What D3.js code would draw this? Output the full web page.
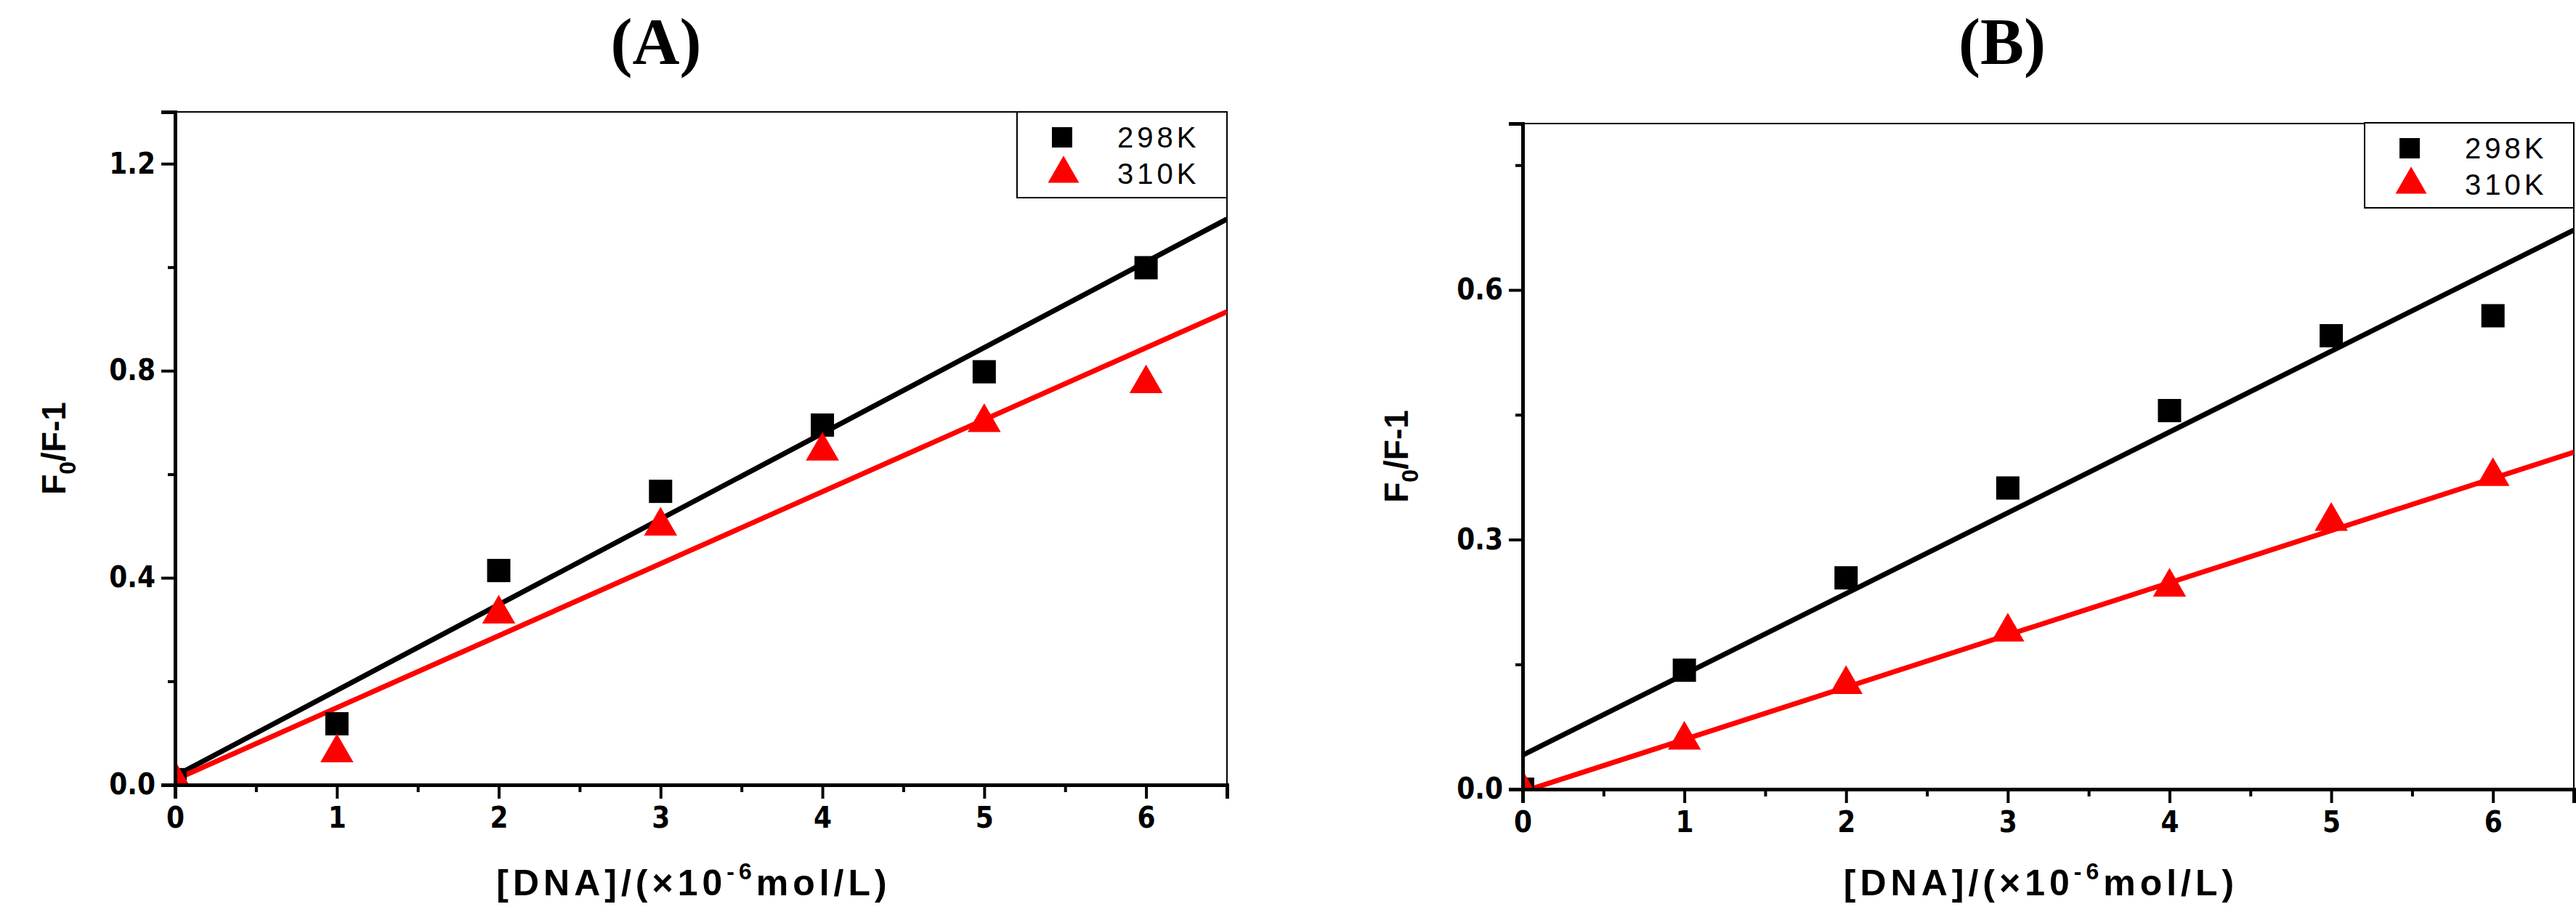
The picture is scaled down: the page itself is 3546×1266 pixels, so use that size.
<!DOCTYPE html>
<html><head><meta charset="utf-8">
<script src="https://cdn.jsdelivr.net/npm/d3@7"></script>
<style>
body{margin:0;background:#fff}
text{fill:#000}
.tick-l{font-family:"DejaVu Sans Condensed","DejaVu Sans";font-stretch:condensed;font-weight:bold;font-size:40px}
</style></head><body>
<div id="chart"></div>
<script>
// data
const conc = [0, 1, 2, 3, 4, 5, 6];
const a298 = [0.01, 0.118, 0.414, 0.567, 0.695, 0.798, 0.999];
const a310 = [0.01, 0.062, 0.33, 0.50, 0.645, 0.70, 0.775];
const aFit298 = [0.017, 1.093]; // line at x=0 and x=6.5
const aFit310 = [0.01, 0.914];
const b298 = [0.0, 0.143, 0.254, 0.362, 0.455, 0.545, 0.569];
const b310 = [0.0, 0.059, 0.126, 0.189, 0.243, 0.322, 0.376];
const bFit298 = [0.041, 0.672];
const bFit310 = [-0.003, 0.405];
const fitX = [0, 6.5];
const seriesNames = ["298K", "310K"];

const W = 3546, H = 1266;
const svg = d3.select("#chart").append("svg").attr("width", W).attr("height", H);

const panels = [
  {title: "(A)", tx: 903, x0: 241, x1: 1689, y0: 1080, y1: 154, ymax: 1.3,
   yMajor: [0, 0.4, 0.8, 1.2], yMinor: [0.2, 0.6, 1.0], s: [a298, a310], fit: [aFit298, aFit310],
   leg: [1400, 154, 289, 118], ytitleX: 74},
  {title: "(B)", tx: 2756, x0: 2096, x1: 3543, y0: 1086, y1: 170, ymax: 0.8,
   yMajor: [0, 0.3, 0.6], yMinor: [0.15, 0.45, 0.75], s: [b298, b310], fit: [bFit298, bFit310],
   leg: [3255, 169, 288, 117], ytitleX: 1922}
];
const colors = ["#000", "#ff0000"];

panels.forEach(p => {
  const x = d3.scaleLinear().domain([0, 6.5]).range([p.x0, p.x1]);
  const y = d3.scaleLinear().domain([0, p.ymax]).range([p.y0, p.y1]);
  const g = svg.append("g");

  g.append("text").attr("x", p.tx).attr("y", 88).attr("text-anchor", "middle")
    .style("font-family", "Liberation Serif").style("font-weight", "bold").style("font-size", "90px").text(p.title);

  // frame: thin top/right, thick left/bottom
  g.append("line").attr("x1", p.x0).attr("x2", p.x1).attr("y1", p.y1).attr("y2", p.y1).attr("stroke", "#000").attr("stroke-width", 2);
  g.append("line").attr("x1", p.x1).attr("x2", p.x1).attr("y1", p.y1).attr("y2", p.y0).attr("stroke", "#000").attr("stroke-width", 2);

  const clipId = "clip" + p.title.replace(/\W/g, "");
  g.append("clipPath").attr("id", clipId).append("rect")
    .attr("x", p.x0).attr("y", p.y1).attr("width", p.x1 - p.x0).attr("height", p.y0 - p.y1);
  const plot = g.append("g").attr("clip-path", `url(#${clipId})`);

  p.fit.forEach((f, i) => {
    plot.append("line").attr("x1", x(fitX[0])).attr("x2", x(fitX[1]))
      .attr("y1", y(f[0])).attr("y2", y(f[1])).attr("stroke", colors[i]).attr("stroke-width", 7);
  });
  plot.selectAll(".sq").data(conc.map((c, i) => [c, p.s[0][i]])).join("rect")
    .attr("x", d => x(d[0]) - 16).attr("y", d => y(d[1]) - 16).attr("width", 32).attr("height", 32).attr("fill", "#000");
  const tri = d3.symbol().type(d3.symbolTriangle).size(900);
  plot.selectAll(".tr").data(conc.map((c, i) => [c, p.s[1][i]])).join("path")
    .attr("d", tri).attr("transform", d => `translate(${x(d[0])},${y(d[1])})`).attr("fill", colors[1]);

  // x axis
  const xa = g.append("g").attr("transform", `translate(0,${p.y0})`)
    .call(d3.axisBottom(x).tickValues(conc).tickFormat(d3.format("d")).tickSize(19).tickPadding(12));
  g.append("g").attr("transform", `translate(0,${p.y0})`)
    .call(d3.axisBottom(x).tickValues(d3.range(0.5, 6.6, 1)).tickFormat("").tickSize(10))
    .call(a => a.select(".domain").remove());
  const ya = g.append("g").attr("transform", `translate(${p.x0},0)`)
    .call(d3.axisLeft(y).tickValues(p.yMajor).tickFormat(d3.format(".1f")).tickSize(19).tickPadding(8));
  g.append("g").attr("transform", `translate(${p.x0},0)`)
    .call(d3.axisLeft(y).tickValues(p.yMinor).tickFormat("").tickSize(10))
    .call(a => a.select(".domain").remove());
  [xa, ya].forEach(a => {
    a.select(".domain").attr("stroke-width", 5);
    a.selectAll(".tick text").attr("class", "tick-l").attr("fill", "#000");
  });
  g.selectAll(".tick line").attr("stroke-width", 4);

  // axis titles
  const xt = g.append("text").attr("x", (p.x0 + p.x1) / 2 - 10).attr("y", 1232).attr("text-anchor", "middle")
    .style("font-family", "Liberation Sans").style("font-weight", "bold").style("font-size", "50px")
    .style("letter-spacing", "6px");
  xt.append("tspan").text("[DNA]/(×10");
  xt.append("tspan").attr("dy", -22).style("font-size", "32px").text("-6");
  xt.append("tspan").attr("dy", 22).text("mol/L)");
  const yt = g.append("text").attr("transform", `translate(${p.ytitleX + 16},${(p.y0 + p.y1) / 2}) rotate(-90)`)
    .attr("text-anchor", "middle")
    .style("font-family", "Liberation Sans").style("font-weight", "bold").style("font-size", "46px");
  yt.append("tspan").text("F");
  yt.append("tspan").attr("dy", 14).style("font-size", "32px").text("0");
  yt.append("tspan").attr("dy", -14).text("/F-1");

  // legend
  const [lx, ly, lw, lh] = p.leg;
  const lg = g.append("g");
  lg.append("rect").attr("x", lx).attr("y", ly).attr("width", lw).attr("height", lh)
    .attr("fill", "#fff").attr("stroke", "#000").attr("stroke-width", 2);
  seriesNames.forEach((n, i) => {
    const cy = ly + 35 + i * 50;
    if (i === 0) lg.append("rect").attr("x", lx + 48).attr("y", cy - 14).attr("width", 28).attr("height", 28).attr("fill", "#000");
    else lg.append("path").attr("d", d3.symbol().type(d3.symbolTriangle).size(800)).attr("transform", `translate(${lx + 64},${cy})`).attr("fill", colors[1]);
    lg.append("text").attr("x", lx + 138).attr("y", cy + 14)
      .style("font-family", "Liberation Sans").style("font-size", "40px").style("letter-spacing", "5px").text(n);
  });
});
</script>
</body></html>
